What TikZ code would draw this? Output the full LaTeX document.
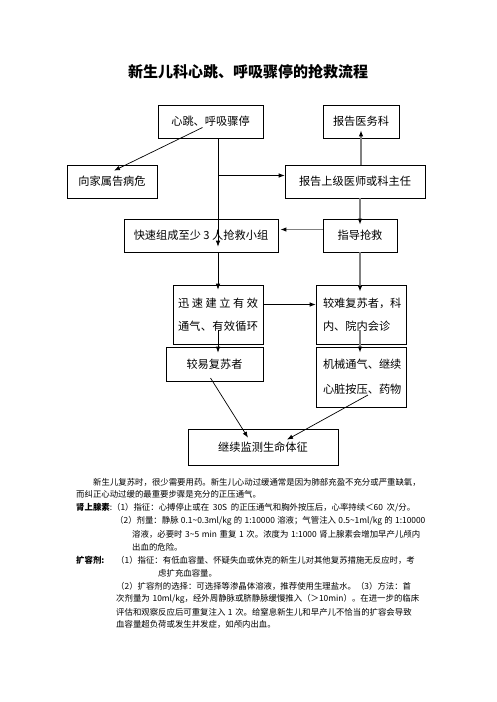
\documentclass[tikz,border=0pt]{standalone}
\usepackage{fontspec}
\setmainfont{Noto Sans CJK SC}
\usetikzlibrary{arrows.meta,calc}
\XeTeXlinebreaklocale "zh"
\XeTeXlinebreakskip=0pt plus 3pt minus 0.3pt
\tikzset{
  box/.style={draw=black, line width=0.7pt, rectangle, inner sep=0pt, font=\fontsize{11.2pt}{13pt}\selectfont},
  arr/.style={-{Latex[length=6pt,width=4.5pt]}, draw=black, line width=0.7pt},
  garr/.style={-{Latex[length=6pt,width=4.5pt,color=black]}, draw=black!50, line width=1.8pt},
  txt/.style={anchor=west, inner sep=0pt, font=\fontsize{8.4pt}{10pt}\selectfont},
}
\newcommand{\jl}[2]{\makebox[#1][s]{#2}}
\newcommand{\jt}[2]{{\spaceskip=2.6pt plus 0.5pt minus 0.3pt\relax\makebox[#1][s]{#2}}}
\begin{document}
\begin{tikzpicture}[x=1pt,y=-1pt]
\useasboundingbox[fill=white] (0,0) rectangle (496,702);
\node[font=\fontsize{15pt}{17pt}\selectfont\bfseries] (title) at (248,72) {新生儿科心跳、呼吸骤停的抢救流程};
% boxes
\node[box, minimum width=105pt, minimum height=33pt] (n1) at (210.5,121.5) {心跳、呼吸骤停};
\node[box, minimum width=76pt, minimum height=33pt] (n2) at (361,121.5) {报告医务科};
\node[box, minimum width=90pt, minimum height=33pt] (n3) at (112,181.5) {向家属告病危};
\node[box, minimum width=140pt, minimum height=33pt] (n4) at (355,181.5) {报告上级医师或科主任};
\node[box, minimum width=154pt, minimum height=33pt] (n5) at (201,235.5) {快速组成至少 3 人抢救小组};
\node[box, minimum width=74pt, minimum height=33pt] (n6) at (360,235.5) {指导抢救};
\node[box, minimum width=90pt, minimum height=59pt, align=center] (n7) at (218,314.5) {\jl{80pt}{迅\hfill 速\hfill 建\hfill 立\hfill 有\hfill 效}\\[10pt]\jl{80pt}{通\hfill 气\hfill 、\hfill 有\hfill 效\hfill 循\hfill 环}};
\node[box, minimum width=90pt, minimum height=59pt, align=center] (n8) at (361,314.5) {\jl{76pt}{较\hfill 难\hfill 复\hfill 苏\hfill 者\hfill ，\hfill 科}\\[10pt]\makebox[76pt][l]{内、院内会诊}};
\node[box, minimum width=97pt, minimum height=34pt] (n9) at (214.5,364) {较易复苏者};
\node[box, minimum width=90pt, minimum height=60pt, align=center] (n10) at (361,377) {\jl{76pt}{机\hfill 械\hfill 通\hfill 气\hfill 、\hfill 继\hfill 续}\\[12pt]\jl{76pt}{心\hfill 脏\hfill 按\hfill 压\hfill 、\hfill 药\hfill 物}};
\node[box, minimum width=150pt, minimum height=36pt] (n11) at (263,447) {继续监测生命体征};
\coordinate (sp) at (218,0);
% black connectors
\draw[arr] ($(n1.center)+(-8,6)$) -- ($(n3.north)+(2,6)$);
\draw[arr] (n1.south -| sp) -- ($(n5.north -| sp)+(0,28)$);
\draw[arr] ($(n4.west -| sp)+(0,-6)$) -- ($(n4.west)+(0,-6)$);
\draw[arr] (n5.south -| sp) -- ($(n7.north)+(0,5)$);
\draw[arr] ($(n7.east)+(0,-10)$) -- ($(n8.west)+(0,-10)$);
\draw[arr] ($(n7.south)+(0,-14)$) -- ($(n9.north -| n7)+(0,6)$);
\draw[arr] ($(n9.center)+(-4,14)$) -- ($(n11.north)+(-15,9)$);
\draw[arr] ($(n10.center)+(7,18)$) -- ($(n11.north)+(24,11)$);
% gray connectors
\draw[garr] (n4.north -| n2) -- ($(n2.south)+(0,-8)$);
\draw[garr] (n4.south -| n6) -- ($(n6.north)+(0,6)$);
\draw[garr] ($(n6.west)+(0,-6)$) -- ($(n5.east)+(2,-6)$);
\draw[garr] (n6.south) -- ($(n8.north -| n6)+(0,7)$);
\draw[garr] ($(n8.south -| n6)+(0,-14)$) -- ($(n10.north -| n6)+(0,6)$);
% body text
\node[txt] (t1) at (93,482) {\jt{329pt}{新生儿复苏时，很少需要用药。新生儿心动过缓通常是因为肺部充盈不充分或严重缺氧，}};
\node[txt] (t2) at (76,494.5) {而纠正心动过缓的最重要步骤是充分的正压通气。};
\node[txt] (t3) at (76,508) {\jt{339pt}{\textbf{肾上腺素}:（1）指征：心搏停止或在 30S 的正压通气和胸外按压后，心率持续＜60 次/分。}};
\node[txt] (t4) at (115,521) {\jt{305pt}{（2）剂量：静脉 0.1\char`\~0.3ml/kg 的 1:10000 溶液；气管注入 0.5\char`\~1ml/kg 的 1:10000}};
\node[txt] (t5) at (132,534) {\jt{288pt}{溶液，必要时 3\char`\~5 min 重复 1 次。浓度为 1:1000 肾上腺素会增加早产儿颅内}};
\node[txt] (t6) at (132,547) {出血的危险。};
\node[txt] (t7a) at (76,560) {\textbf{扩容剂:}};
\node[txt] (t7) at (116,560) {\jt{303pt}{（1）指征：有低血容量、怀疑失血或休克的新生儿对其他复苏措施无反应时，考}};
\node[txt] (t8) at (158,573) {虑扩充血容量。};
\node[txt] (t9) at (116,586) {\jt{303pt}{（2）扩容剂的选择：可选择等渗晶体溶液，推荐使用生理盐水。（3）方法：首}};
\node[txt] (t10) at (116,599) {\jt{303pt}{次剂量为 10ml/kg，经外周静脉或脐静脉缓慢推入（＞10min）。在进一步的临床}};
\node[txt] (t11) at (116,612) {\jt{303pt}{评估和观察反应后可重复注入\kern2.6pt 1\kern2.6pt 次。给窒息新生儿和早产儿不恰当的扩容会导致}};
\node[txt] (t12) at (116,624.5) {血容量超负荷或发生并发症，如颅内出血。};
\end{tikzpicture}
\end{document}
